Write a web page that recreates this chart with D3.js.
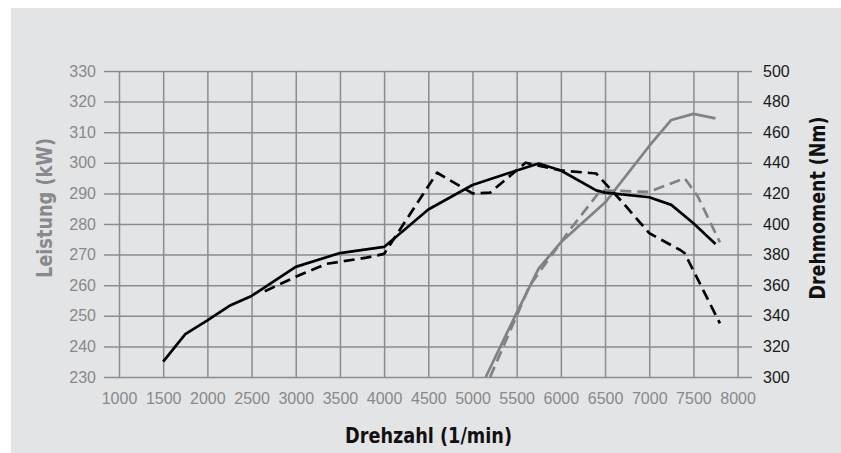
<!DOCTYPE html>
<html>
<head>
<meta charset="utf-8">
<script src="https://cdn.jsdelivr.net/npm/d3@7/dist/d3.min.js"></script>
<style>
  body { margin: 0; background: #fff; }
  .tick text { font-family: "Liberation Sans", Arial, sans-serif; font-size: 16px; }
  .title { font-family: "DejaVu Sans Condensed", "DejaVu Sans", sans-serif; font-weight: bold; font-stretch: condensed; }
</style>
</head>
<body>
<div id="chart"></div>
<script>
// tick labels
var rpmTicks = d3.range(1000, 8001, 500);
var kwTicks = d3.range(230, 331, 10);
var nmTicks = d3.range(300, 501, 20);

// Drehmoment, solid black (Nm)
var torqueSolidRpm = [1500, 1750, 2000, 2250, 2500, 3000, 3500, 4000, 4500, 5000, 5500, 5750, 6000, 6400, 6500, 7000, 7250, 7500, 7750];
var torqueSolidNm  = [310, 328, 337, 346.5, 353, 372, 381, 385, 409.5, 425.5, 435, 439.5, 435, 422, 420.5, 417.5, 412.5, 400.5, 387];

// Drehmoment, dashed black (Nm)
var torqueDashRpm = [2650, 3000, 3350, 3800, 4000, 4600, 5000, 5200, 5600, 6000, 6400, 6700, 7000, 7350, 7400, 7800];
var torqueDashNm  = [356, 365.5, 374, 378, 380.5, 433.5, 420, 420.5, 440, 435, 433, 414, 394, 383, 381, 335];

// Leistung, solid gray (kW)
var powerSolidRpm = [5150, 5500, 5750, 6000, 6500, 7000, 7250, 7500, 7750];
var powerSolidKw  = [230, 251, 265.5, 274, 287, 305.5, 314, 316, 314.5];

// Leistung, dashed gray (kW)
var powerDashRpm = [5200, 5650, 6100, 6450, 7000, 7400, 7550, 7800];
var powerDashKw  = [230, 260, 278, 291, 290.5, 295, 289, 274];

var W = 841, H = 453;
var plotLeft = 119, plotRight = 737.6, plotTop = 71, plotBottom = 377;

var svg = d3.select("#chart").append("svg")
    .attr("width", W)
    .attr("height", H);

svg.append("rect")
    .attr("x", 11).attr("y", 8)
    .attr("width", W - 11).attr("height", H - 8)
    .attr("fill", "#e3e4e6");

var x = d3.scaleLinear().domain([1000, 8000]).range([plotLeft, plotRight]);
var yKw = d3.scaleLinear().domain([230, 330]).range([plotBottom, plotTop]);
var yNm = d3.scaleLinear().domain([300, 500]).range([plotBottom, plotTop]);

var gridColor = "#8a8d90";
var fmt = d3.format("d");

// horizontal grid + left labels
var gLeft = svg.append("g")
    .attr("transform", "translate(104,0)")
    .call(d3.axisLeft(yKw).tickValues(kwTicks).tickFormat(fmt)
        .tickSizeInner(-(752 - 104)).tickSizeOuter(0).tickPadding(8));
gLeft.select(".domain").remove();
gLeft.selectAll(".tick line").attr("stroke", gridColor).attr("stroke-width", 1.5);
gLeft.selectAll(".tick text").attr("fill", "#87898c");

// vertical grid + bottom labels
var gBottom = svg.append("g")
    .attr("transform", "translate(0," + plotBottom + ")")
    .call(d3.axisBottom(x).tickValues(rpmTicks).tickFormat(fmt)
        .tickSizeInner(-(plotBottom - plotTop)).tickSizeOuter(0).tickPadding(16));
gBottom.select(".domain").remove();
gBottom.selectAll(".tick line").attr("stroke", gridColor).attr("stroke-width", 1.5);
gBottom.selectAll(".tick text").attr("fill", "#87898c");

// right labels
var gRight = svg.append("g")
    .attr("transform", "translate(752,0)")
    .call(d3.axisRight(yNm).tickValues(nmTicks).tickFormat(fmt).tickSize(0).tickPadding(11));
gRight.select(".domain").remove();
gRight.selectAll(".tick text").attr("fill", "#1a1a1a");

function series(rpm, vals) {
    return rpm.map(function (r, i) { return [r, vals[i]]; });
}

var lineKw = d3.line().x(function (d) { return x(d[0]); }).y(function (d) { return yKw(d[1]); });
var lineNm = d3.line().x(function (d) { return x(d[0]); }).y(function (d) { return yNm(d[1]); });

var curves = [
    { d: lineKw(series(powerSolidRpm, powerSolidKw)), color: "#808285", dash: null },
    { d: lineKw(series(powerDashRpm, powerDashKw)), color: "#808285", dash: "11,6" },
    { d: lineNm(series(torqueSolidRpm, torqueSolidNm)), color: "#000", dash: null },
    { d: lineNm(series(torqueDashRpm, torqueDashNm)), color: "#000", dash: "11,6" }
];

svg.append("g").selectAll("path")
    .data(curves)
    .enter()
    .append("path")
    .attr("d", function (c) { return c.d; })
    .attr("fill", "none")
    .attr("stroke", function (c) { return c.color; })
    .attr("stroke-width", 2.7)
    .attr("stroke-linejoin", "round")
    .attr("stroke-dasharray", function (c) { return c.dash; });

// axis titles
svg.append("text")
    .attr("class", "title")
    .attr("transform", "translate(52,208) rotate(-90)")
    .attr("text-anchor", "middle")
    .attr("font-size", 21)
    .attr("fill", "#87898c")
    .attr("textLength", 140)
    .attr("lengthAdjust", "spacingAndGlyphs")
    .text("Leistung (kW)");

svg.append("text")
    .attr("class", "title")
    .attr("transform", "translate(825,208) rotate(-90)")
    .attr("text-anchor", "middle")
    .attr("font-size", 21)
    .attr("fill", "#111")
    .attr("textLength", 183)
    .attr("lengthAdjust", "spacingAndGlyphs")
    .text("Drehmoment (Nm)");

svg.append("text")
    .attr("class", "title")
    .attr("x", 428.5)
    .attr("y", 443)
    .attr("text-anchor", "middle")
    .attr("font-size", 21)
    .attr("fill", "#111")
    .attr("textLength", 167)
    .attr("lengthAdjust", "spacingAndGlyphs")
    .text("Drehzahl (1/min)");
</script>
</body>
</html>
